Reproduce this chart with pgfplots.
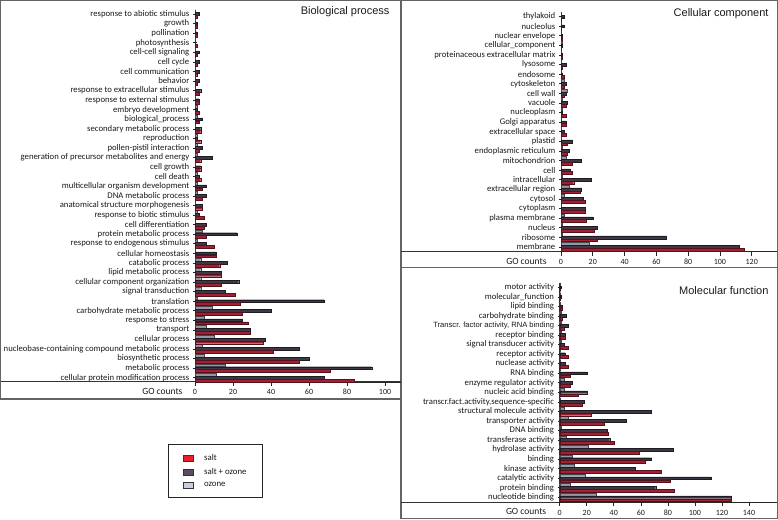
\documentclass[border=0pt]{standalone}
\usepackage{fontspec}
\setmainfont{Carlito}
\newfontfamily\arialf{Liberation Sans}
\usepackage{pgfplots}
\usepackage{pgfplotstable}
\pgfplotsset{compat=1.18}
\definecolor{saltc}{RGB}{160,34,50}
\definecolor{saltd}{RGB}{85,18,28}
\definecolor{soc}{RGB}{62,56,68}
\definecolor{sod}{RGB}{30,28,34}
\definecolor{ozc}{RGB}{150,150,165}
\definecolor{ozd}{RGB}{70,70,80}
\definecolor{legsalt}{RGB}{232,32,42}
\definecolor{legso}{RGB}{90,78,94}
\definecolor{legoz}{RGB}{200,206,226}
\definecolor{boxc}{RGB}{100,100,100}

\pgfplotstableread{
idx oz so sa
0 11 68 84
1 16 93 71
2 5 60 55
3 4 55 41
4 10 37 36
5 6 29 29
6 5 25 28
7 9 40 25
8 1 68 24
9 3 16 21
10 3 23 14
11 3 14 14
12 3 17 13
13 0 11 11
14 1 6 10
15 4 22 6
16 0 6 5
17 1 2 5
18 0 4 4
19 1 6 4
20 1 6 4
21 1 2 3
22 0 3 3
23 1 9 3
24 1 4 2
25 1 1 3
26 0 3 3
27 1 4 2
28 1 1 2
29 0 2 2
30 0 3 2
31 0 2 1
32 0 2 1
33 0 2 1
34 0 2 1
35 0 0 1
36 0 1 1
37 0 1 1
38 0 2 1
}\bptable

\pgfplotstableread{
idx oz so sa
0 18 112 115
1 1 66 23
2 1 23 21
3 2 20 16
4 0 15 15
5 2 14 15
6 5 13 12
7 1 19 8
8 0 6 7
9 3 13 7
10 1 5 4
11 0 7 4
12 0 2 3
13 0 3 3
14 1 1 3
15 1 4 3
16 4 3 2
17 2 3 2
18 0 1 2
19 0 3 1
20 0 1 1
21 1 1 0
22 0 1 1
23 0 2 0
24 0 2 0
}\cctable

\pgfplotstableread{
idx oz so sa
0 27 127 127
1 8 71 85
2 19 112 82
3 11 56 75
4 9 68 63
5 21 84 59
6 5 37 40
7 1 35 36
8 6 49 33
9 3 68 23
10 0 18 17
11 3 20 14
12 3 9 8
13 0 20 8
14 0 4 6
15 0 4 6
16 1 3 6
17 1 4 4
18 1 6 3
19 1 5 2
20 0 2 2
21 0 1 0
22 0 1 0
}\mftable

\pgfplotsset{
  gopanel/.style={
    scale only axis, anchor=south west, clip=false,
    xbar, bar width=2.8pt,
    axis lines*=left,
    axis line style={black!85, line width=0.8pt},
    xmin=0,
    tick style={black!85, line width=0.6pt},
    major tick length=4pt,
    tick align=outside,
    ytick style={xshift=2pt},
    yticklabel style={font=\fontsize{8.7}{9}\selectfont, text=black!90, inner sep=1.5pt},
    xticklabel style={font=\fontsize{8}{9}\selectfont, text=black!90},
    /pgf/number format/assume math mode=true,
  },
  ozbar/.style={fill=ozc, draw=ozd, line width=0.4pt, bar shift=2.9pt, forget plot},
  sobar/.style={fill=soc, draw=sod, line width=0.4pt, bar shift=0pt, forget plot},
  sabar/.style={fill=saltc, draw=saltd, line width=0.4pt, bar shift=-2.9pt, forget plot},
}

\begin{document}
\begin{tikzpicture}[x=1pt,y=1pt]
\useasboundingbox (0,0) rectangle (778,519);
% panel boxes
\draw[boxc, line width=1.2pt] (0.6,120) rectangle (401,518.4);
\draw[boxc, line width=1.2pt] (401,251.3) rectangle (777.4,518.4);
\draw[boxc, line width=1.2pt] (401,0.6) rectangle (777.4,251.3);
\draw[black!80, line width=1pt] (0.6,137) -- (401,137);
\draw[black!80, line width=1pt] (401,267.3) -- (777.4,267.3);
\draw[black!80, line width=1pt] (401,16.7) -- (777.4,16.7);

% Biological process
\begin{axis}[gopanel,
  at={(195pt,137pt)}, width=206pt, height=372.3pt,
  xmax=108.4, ymin=-0.45, ymax=38.45,
  xtick={0,20,40,60,80,100},
  ytick={0,...,38},
  yticklabels={cellular protein modification process, metabolic process, biosynthetic process, nucleobase-containing compound metabolic process, cellular process, transport, response to stress, carbohydrate metabolic process, translation, signal transduction, cellular component organization, lipid metabolic process, catabolic process, cellular homeostasis, response to endogenous stimulus, protein metabolic process, cell differentiation, response to biotic stimulus, anatomical structure morphogenesis, DNA metabolic process, multicellular organism development, cell death, cell growth, generation of precursor metabolites and energy, pollen-pistil interaction, reproduction, secondary metabolic process, biological\_process, embryo development, response to external stimulus, response to extracellular stimulus, behavior, cell communication, cell cycle, cell-cell signaling, photosynthesis, pollination, growth, response to abiotic stimulus},
  legend style={at={(-0.131,-0.1665)}, anchor=north west, draw=black!85, line width=1.2pt,
    font=\fontsize{8.8}{10}\selectfont, text=black!90, inner xsep=14pt, inner ysep=7.5pt,
    row sep=2.5pt, column sep=9pt, cells={anchor=west}},
  legend image code/.code={\draw[#1, line width=0.5pt] (0pt,-3pt) rectangle (10pt,3pt);},
]
\addplot[ozbar] table[x=oz, y=idx] {\bptable};
\addplot[sobar] table[x=so, y=idx] {\bptable};
\addplot[sabar] table[x=sa, y=idx] {\bptable};
\addlegendimage{fill=legsalt, draw=black!80}
\addlegendentry{salt}
\addlegendimage{fill=legso, draw=black!80}
\addlegendentry{salt + ozone}
\addlegendimage{fill=legoz, draw=black!80}
\addlegendentry{ozone}
\node[anchor=east, font=\fontsize{9.5}{10}\selectfont, text=black!90, xshift=-9pt, yshift=-9pt] at (axis cs:0,-0.45) {GO counts};
\end{axis}
\node[anchor=east, font=\arialf\fontsize{11}{12}\selectfont, text=black!90] at (393,507) {Biological process};

% Cellular component
\begin{axis}[gopanel,
  at={(561pt,267.3pt)}, width=216pt, height=239.8pt,
  xmax=135.9, ymin=-0.49, ymax=24.49,
  xtick={0,20,40,60,80,100,120},
  ytick={0,...,24},
  yticklabels={membrane, ribosome, nucleus, plasma membrane, cytoplasm, cytosol, extracellular region, intracellular, cell, mitochondrion, endoplasmic reticulum, plastid, extracellular space, Golgi apparatus, nucleoplasm, vacuole, cell wall, cytoskeleton, endosome, lysosome, proteinaceous extracellular matrix, cellular\_component, nuclear envelope, nucleolus, thylakoid},
]
\addplot[ozbar] table[x=oz, y=idx] {\cctable};
\addplot[sobar] table[x=so, y=idx] {\cctable};
\addplot[sabar] table[x=sa, y=idx] {\cctable};
\node[anchor=east, font=\fontsize{9.5}{10}\selectfont, text=black!90, xshift=-11pt, yshift=-10pt] at (axis cs:0,-0.49) {GO counts};
\end{axis}
\node[anchor=east, font=\arialf\fontsize{11}{12}\selectfont, text=black!90] at (772,505) {Cellular component};

% Molecular function
\begin{axis}[gopanel,
  at={(559.7pt,16.7pt)}, width=217.3pt, height=219.3pt,
  xmax=160.7, ymin=-0.52, ymax=22.45,
  xtick={0,20,40,60,80,100,120,140},
  ytick={0,...,22},
  yticklabels={nucleotide binding, protein binding, catalytic activity, kinase activity, binding, hydrolase activity, transferase activity, DNA binding, transporter activity, structural molecule activity, {transcr.fact.activity,sequence-specific}, nucleic acid binding, enzyme regulator activity, RNA binding, nuclease activity, receptor activity, signal transducer activity, receptor binding, {{\arialf\fontsize{7.6}{8}\selectfont Transcr. factor activity, RNA binding}}, carbohydrate binding, lipid binding, molecular\_function, motor activity},
]
\addplot[ozbar] table[x=oz, y=idx] {\mftable};
\addplot[sobar] table[x=so, y=idx] {\mftable};
\addplot[sabar] table[x=sa, y=idx] {\mftable};
\node[anchor=east, font=\fontsize{9.5}{10}\selectfont, text=black!90, xshift=-10pt, yshift=-9.4pt] at (axis cs:0,-0.52) {GO counts};
\end{axis}
\node[anchor=east, font=\arialf\fontsize{11}{12}\selectfont, text=black!90] at (772,228) {Molecular function};
\end{tikzpicture}
\end{document}
